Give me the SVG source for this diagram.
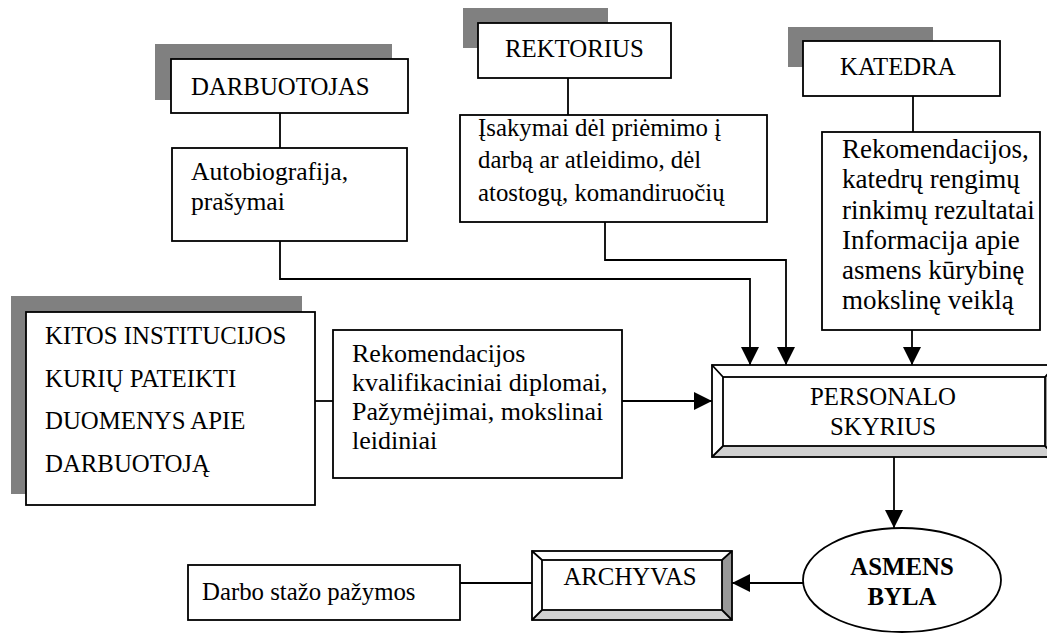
<svg xmlns="http://www.w3.org/2000/svg" width="1047" height="634" viewBox="0 0 1047 634">
<style>
.bg{fill:#fff}
.box{fill:#fff;stroke:#000;stroke-width:1.8}
.sh{fill:#808080}
.t{font-family:"Liberation Serif","Times New Roman",serif;font-size:24.8px;fill:#000}
.big{font-size:27px}
.mid{font-size:26px}
.c{text-anchor:middle}
.b{font-weight:bold}
.ln{fill:none;stroke:#000;stroke-width:1.8}
</style>
<defs>
<marker id="arr" markerUnits="userSpaceOnUse" markerWidth="18" markerHeight="18" refX="18" refY="9" orient="auto">
<path d="M0,0 L18,9 L0,18 z" fill="#000"/>
</marker>
</defs>
<rect class="bg" x="0" y="0" width="1047" height="634"/>

<g id="darbuotojas">
<rect class="sh" x="155" y="44" width="237" height="56"/>
<rect class="box" x="171" y="59" width="237" height="54"/>
<text class="t" x="191" y="95">DARBUOTOJAS</text>
</g>
<g id="autobiografija">
<rect class="box" x="172" y="148" width="235" height="93"/>
<text class="t" x="191" y="180" style="font-size:25.6px">Autobiografija,</text>
<text class="t" x="191" y="210" style="font-size:25.6px">prašymai</text>
</g>

<g id="rektorius">
<rect class="sh" x="463" y="8" width="145" height="40"/>
<rect class="box" x="478" y="23" width="193" height="55"/>
<text class="t" x="505" y="57">REKTORIUS</text>
</g>
<g id="isakymai">
<rect class="box" x="460" y="115" width="307" height="107"/>
<text class="t" x="478" y="136">Įsakymai dėl priėmimo į</text>
<text class="t" x="478" y="168">darbą ar atleidimo, dėl</text>
<text class="t" x="478" y="201">atostogų, komandiruočių</text>
</g>

<g id="katedra">
<rect class="sh" x="788" y="27" width="145" height="40"/>
<rect class="box" x="803" y="41" width="197" height="55"/>
<text class="t" x="840" y="75">KATEDRA</text>
</g>
<g id="katedra-info">
<rect class="box" x="822" y="132" width="218" height="198"/>
<text class="t big" x="842" y="158">Rekomendacijos,</text>
<text class="t big" x="842" y="188">katedrų rengimų</text>
<text class="t big" x="842" y="218.5">rinkimų rezultatai</text>
<text class="t big" x="842" y="249">Informacija apie</text>
<text class="t big" x="842" y="279">asmens kūrybinę</text>
<text class="t big" x="842" y="309">mokslinę veiklą</text>
</g>

<g id="kitos">
<rect class="sh" x="11" y="296" width="291" height="198"/>
<rect class="box" x="26" y="312" width="289" height="193"/>
<text class="t" x="45" y="344">KITOS INSTITUCIJOS</text>
<text class="t" x="45" y="387">KURIŲ PATEIKTI</text>
<text class="t" x="45" y="429">DUOMENYS APIE</text>
<text class="t" x="45" y="472">DARBUOTOJĄ</text>
</g>
<g id="rekomendacijos">
<rect class="box" x="333" y="330" width="289" height="148"/>
<text class="t mid" x="352" y="362">Rekomendacijos</text>
<text class="t mid" x="352" y="391">kvalifikaciniai diplomai,</text>
<text class="t mid" x="352" y="420">Pažymėjimai, mokslinai</text>
<text class="t mid" x="352" y="449">leidiniai</text>
</g>

<g id="personalo">
<polygon points="712,365 1056,365 1045,377 723,377" fill="#fff"/>
<polygon points="712,365 723,377 723,446 712,457" fill="#fff"/>
<polygon points="712,457 723,446 1045,446 1056,457" fill="#d0d0d0"/>
<polygon points="1056,365 1045,377 1045,446 1056,457" fill="#999"/>
<rect class="ln" x="712" y="365" width="344" height="92"/>
<rect class="ln" x="723" y="377" width="322" height="69"/>
<path class="ln" d="M712,365 L723,377 M712,457 L723,446 M1056,365 L1045,377 M1056,457 L1045,446" stroke-width="1.2"/>
<text class="t c" x="883" y="405">PERSONALO</text>
<text class="t c" x="883" y="435">SKYRIUS</text>
</g>

<g id="asmens-byla">
<ellipse class="box" cx="902" cy="580" rx="99" ry="52"/>
<text class="t c b" x="902" y="575">ASMENS</text>
<text class="t c b" x="902" y="605">BYLA</text>
</g>

<g id="archyvas">
<polygon points="532,551 732,551 722,560 542,560" fill="#fff"/>
<polygon points="532,551 542,560 542,610 532,620" fill="#fff"/>
<polygon points="532,620 542,610 722,610 732,620" fill="#d0d0d0"/>
<polygon points="732,551 722,560 722,610 732,620" fill="#999"/>
<rect class="ln" x="532" y="551" width="200" height="69"/>
<rect class="ln" x="542" y="560" width="180" height="50"/>
<path class="ln" d="M532,551 L542,560 M532,620 L542,610 M732,551 L722,560 M732,620 L722,610" stroke-width="1.2"/>
<text class="t c" x="630" y="585">ARCHYVAS</text>
</g>

<g id="darbo-stazo">
<rect class="box" x="188" y="565" width="272" height="55"/>
<text class="t" x="202" y="600">Darbo stažo pažymos</text>
</g>

<g id="connectors">
<path class="ln" d="M280,113 V148"/>
<path class="ln" d="M280,241 V279 H750 V365" marker-end="url(#arr)"/>
<path class="ln" d="M568,78 V115"/>
<path class="ln" d="M605,222 V260 H786 V365" marker-end="url(#arr)"/>
<path class="ln" d="M913,96 V132"/>
<path class="ln" d="M912,330 V365" marker-end="url(#arr)"/>
<path class="ln" d="M315,401 H333"/>
<path class="ln" d="M622,401 H712" marker-end="url(#arr)"/>
<path class="ln" d="M894,457 V528" marker-end="url(#arr)"/>
<path class="ln" d="M803,583 H732" marker-end="url(#arr)"/>
<path class="ln" d="M460,583 H532"/>
</g>
</svg>
